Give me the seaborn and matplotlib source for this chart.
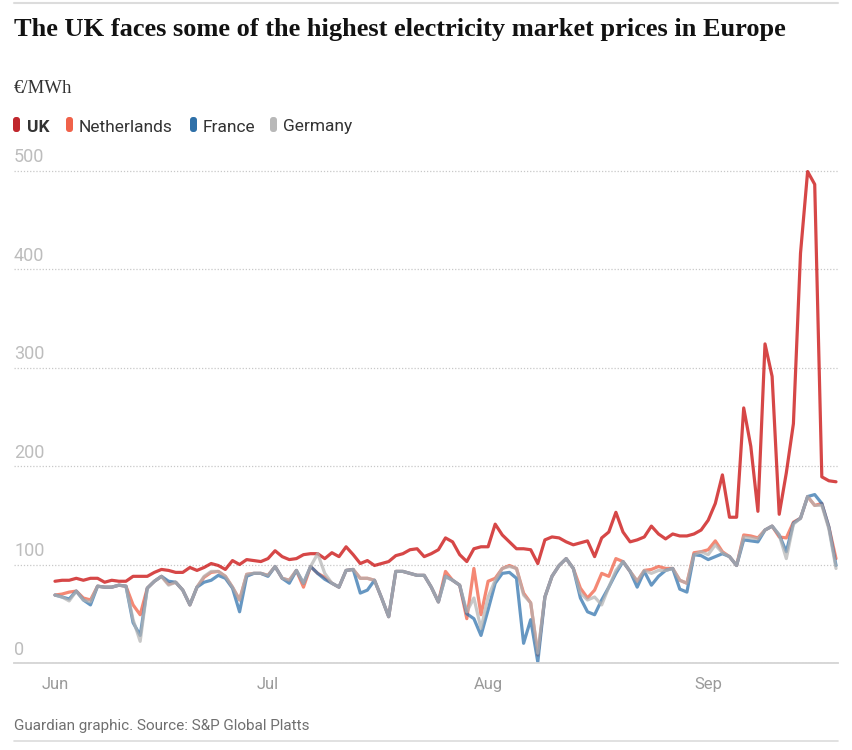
import pandas as pd
import matplotlib.pyplot as plt
import seaborn as sns
from matplotlib.patches import FancyBboxPatch
from matplotlib.lines import Line2D

# Daily market prices, 1 June - 19 September (EUR/MWh)
start_date = '2021-06-01'
countries = ['UK', 'Netherlands', 'France', 'Germany']
colours = ['#c70000', '#f05a3e', '#2b6fab', '#b3b3b3']
marker_colours = ['#c0272d', '#f0624a', '#2f70a8', '#b8b8b8']

uk = [83, 84, 84, 86, 84, 86, 86, 82, 84, 83, 83, 88, 88, 88, 92, 95, 94, 92, 92, 97,
      94, 97, 101, 99, 95, 104, 100, 105, 104, 103,
      106, 114, 108, 105, 106, 110, 111, 111, 106, 112, 108, 118, 110, 101, 104, 99,
      101, 103, 109, 111, 115, 116, 108, 111, 115, 127, 123, 110, 103, 116, 118,
      118, 141, 130, 123, 116, 116, 115, 101, 125, 128, 127, 123, 120, 122, 124, 108,
      127, 133, 153, 133, 123, 125, 128, 139, 131, 126, 131, 129, 129, 131, 135,
      145, 162, 191, 148, 148, 259, 220, 154, 324, 291, 151, 193, 243, 416, 499, 486,
      189, 185, 184]
netherlands = [69, 70, 72, 73, 66, 64, 78, 77, 77, 79, 78, 59, 49, 76, 83, 88, 80, 82, 74, 59,
               77, 87, 92, 93, 88, 77, 64, 90, 91, 91,
               89, 98, 86, 84, 94, 77, 98, 91, 87, 81, 77, 94, 95, 86, 86, 84,
               66, 47, 93, 93, 91, 89, 89, 77, 62, 93, 84, 79, 45, 96, 49,
               83, 86, 96, 99, 96, 71, 61, 8, 67, 88, 99, 106, 96, 76, 66, 74,
               91, 88, 106, 103, 93, 83, 94, 95, 98, 96, 96, 84, 81, 112, 113,
               115, 124, 113, 108, 99, 130, 129, 127, 135, 139, 128, 127, 143, 147, 169, 160,
               162, 138, 106]
france = [69, 67, 65, 73, 64, 59, 78, 77, 77, 79, 78, 41, 28, 76, 83, 88, 83, 82, 74, 59,
          77, 82, 84, 89, 86, 76, 52, 88, 91, 91,
          88, 98, 86, 81, 94, 81, 98, 91, 85, 81, 77, 94, 95, 71, 74, 84,
          66, 47, 93, 93, 91, 89, 89, 77, 62, 88, 84, 79, 50, 45, 28,
          54, 81, 91, 92, 86, 20, 44, 1, 67, 88, 99, 106, 96, 66, 52, 49,
          64, 77, 91, 103, 93, 77, 93, 79, 88, 94, 96, 75, 72, 110, 109,
          105, 108, 111, 108, 99, 125, 124, 123, 135, 139, 130, 113, 142, 147, 169, 171,
          162, 138, 99]
germany = [69, 67, 63, 73, 64, 62, 78, 77, 77, 79, 78, 44, 22, 76, 83, 88, 79, 82, 74, 59,
           77, 88, 93, 93, 88, 77, 64, 90, 91, 91,
           89, 98, 86, 84, 94, 81, 98, 111, 91, 81, 77, 94, 95, 86, 86, 84,
           66, 47, 93, 93, 91, 89, 89, 77, 62, 88, 84, 79, 52, 66, 35,
           67, 84, 96, 98, 96, 69, 61, 10, 67, 88, 99, 106, 96, 71, 64, 67,
           59, 77, 94, 103, 93, 83, 94, 91, 94, 94, 96, 84, 81, 110, 113,
           110, 120, 112, 108, 99, 128, 127, 126, 135, 139, 130, 106, 141, 147, 169, 160,
           160, 136, 96]

y_ticks = [0, 100, 200, 300, 400, 500]
month_ticks = ['2021-06-01', '2021-07-01', '2021-08-01', '2021-09-01']
month_labels = ['Jun', 'Jul', 'Aug', 'Sep']

dates = pd.date_range(start_date, periods=len(uk), freq='D')
frames = []
for name, values in zip(countries, [uk, netherlands, france, germany]):
    frames.append(pd.DataFrame({'date': dates, 'country': name, 'price': values}))
df = pd.concat(frames, ignore_index=True)

sns.set_style('white')
plt.rcParams['font.family'] = ['Roboto', 'DejaVu Sans']

W, H = 853, 750
fig = plt.figure(figsize=(W / 100, H / 100), dpi=100)
ax = fig.add_axes([14 / W, (H - 663) / H, (838 - 14) / W, (663 - 160.7) / H])

sns.lineplot(data=df, x='date', y='price', hue='country', hue_order=countries,
             palette=dict(zip(countries, colours)), linewidth=2.3, alpha=0.72,
             legend=False, ax=ax)

t0 = pd.Timestamp(start_date)
ax.set_xlim(t0 - pd.Timedelta(days=5.77), t0 + pd.Timedelta(days=110.28))
ax.set_ylim(0, 510)

# gridlines + y labels sitting above the lines
ax.set_yticks(y_ticks)
ax.tick_params(axis='y', length=0, labelleft=False)
ax.yaxis.grid(True, linestyle=(0, (1, 1.5)), color='#c8c8c8', linewidth=0.9)
for v in y_ticks:
    ax.annotate(str(v), xy=(0, v), xycoords=('axes fraction', 'data'),
                xytext=(0, 5.8), textcoords='offset points', ha='left', va='baseline',
                fontsize=13, color='#bdbdbd')

ax.set_xticks(pd.to_datetime(month_ticks))
ax.set_xticklabels(month_labels)
ax.tick_params(axis='x', length=4, width=1, color='#cfcfcf', pad=6,
               labelsize=12, labelcolor='#9a9a9a')
ax.set_xlabel('')
ax.set_ylabel('')
for side in ['top', 'right', 'left']:
    ax.spines[side].set_visible(False)
ax.spines['bottom'].set_color('#d4d4d4')
ax.spines['bottom'].set_linewidth(1.3)

# header
px = fig.dpi_scale_trans
fig.add_artist(Line2D([0.14, 8.38], [(H - 3) / 100] * 2, transform=px, color='#dcdcdc', lw=1.5))
fig.text(0.14, (H - 36) / 100, 'The UK faces some of the highest electricity market prices in Europe',
         transform=px, fontsize=19, fontweight='bold', family=['Liberation Serif', 'DejaVu Serif'],
         color='#121212', va='baseline')
fig.text(0.14, (H - 93) / 100, '€/MWh', transform=px, fontsize=13.5,
         family=['Liberation Serif', 'DejaVu Serif'], color='#333333', va='baseline')

# legend
marker_x = [13, 66, 190, 270]
text_x = [27, 79, 203, 283]
for name, col, mx, tx in zip(countries, marker_colours, marker_x, text_x):
    fig.patches.append(FancyBboxPatch((mx / 100, (H - 132) / 100), 0.07, 0.15,
                                      boxstyle='round,pad=0,rounding_size=0.03',
                                      transform=px, facecolor=col, edgecolor='none'))
    fig.text(tx / 100, (H - 131.5) / 100, name, transform=px, fontsize=12.5, va='baseline',
             color='#333333', fontweight='bold' if name == 'UK' else 'normal')

# footer
fig.text(0.14, (H - 730) / 100, 'Guardian graphic. Source: S&P Global Platts', transform=px,
         fontsize=11, color='#707070', va='baseline')
fig.add_artist(Line2D([0.14, 8.38], [(H - 741) / 100] * 2, transform=px, color='#dcdcdc', lw=1.2))

fig.savefig('out.png', dpi=100)
